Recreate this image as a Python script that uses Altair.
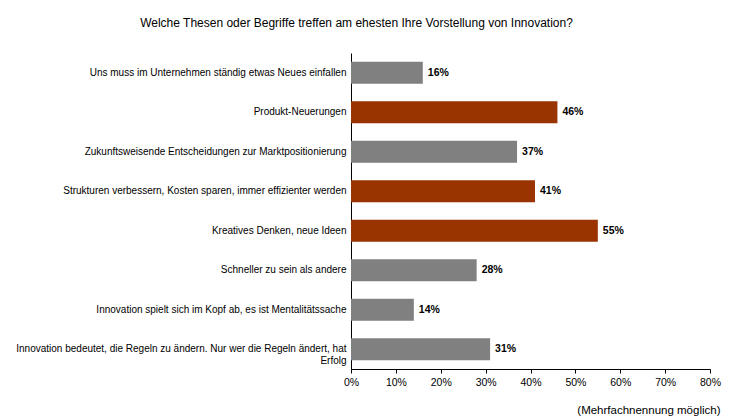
import altair as alt
import pandas as pd

# Survey answers (multiple answers allowed), share of respondents in percent
statements = [
    "Uns muss im Unternehmen ständig etwas Neues einfallen",
    "Produkt-Neuerungen",
    "Zukunftsweisende Entscheidungen zur Marktpositionierung",
    "Strukturen verbessern, Kosten sparen, immer effizienter werden",
    "Kreatives Denken, neue Ideen",
    "Schneller zu sein als andere",
    "Innovation spielt sich im Kopf ab, es ist Mentalitätssache",
    "Innovation bedeutet, die Regeln zu ändern. Nur wer die Regeln ändert, hat|Erfolg",
]
shares = [16, 46, 37, 41, 55, 28, 14, 31]
highlighted = [False, True, False, True, True, False, False, False]

SANS = "Liberation Sans, Arial, sans-serif"

df = pd.DataFrame({
    "statement": statements,
    "share": [s / 100 for s in shares],
    "group": ["hervorgehoben" if h else "standard" for h in highlighted],
    "label": [f"{s}%" for s in shares],
})

y_enc = alt.Y(
    "statement:N",
    sort=statements,
    title=None,
    scale=alt.Scale(paddingInner=0.44, paddingOuter=0.22),
    axis=alt.Axis(
        ticks=False,
        domainColor="#000000",
        domainWidth=1,
        labelFont=SANS,
        labelFontSize=10,
        labelColor="#000000",
        labelPadding=5,
        labelLimit=400,
        labelLineHeight=12,
        labelExpr="split(datum.label, '|')",
    ),
)

x_enc = alt.X(
    "share:Q",
    scale=alt.Scale(domain=[0, 0.8], nice=False),
    axis=alt.Axis(
        format=".0%",
        values=[0, 0.1, 0.2, 0.3, 0.4, 0.5, 0.6, 0.7, 0.8],
        grid=False,
        domainColor="#000000",
        tickColor="#000000",
        tickSize=4,
        labelFont=SANS,
        labelFontSize=10.5,
        labelColor="#000000",
        labelPadding=4,
        labelFlush=False,
        title="(Mehrfachnennung möglich)",
        titleFont=SANS,
        titleFontSize=11.5,
        titleFontWeight="normal",
        titleColor="#000000",
        titleAnchor="end",
        titleAlign="right",
        titleBaseline="alphabetic",
        titleX=369,
        titleY=44,
    ),
)

bars = alt.Chart(df).mark_bar().encode(
    y=y_enc,
    x=x_enc,
    color=alt.Color(
        "group:N",
        scale=alt.Scale(domain=["standard", "hervorgehoben"], range=["#808080", "#993300"]),
        legend=None,
    ),
)

values = alt.Chart(df).mark_text(
    align="left", baseline="middle", dx=5,
    font=SANS, fontSize=10.5, fontWeight="bold", color="#000000",
).encode(
    y=alt.Y("statement:N", sort=statements),
    x="share:Q",
    text="label:N",
)

chart = (
    alt.layer(bars, values)
    .properties(
        width=359,
        height=316,
        autosize=alt.AutoSizeParams(type="none"),
        padding={"left": 351, "top": 53, "right": 22, "bottom": 51},
        background="#ffffff",
        title=alt.TitleParams(
            "Welche Thesen oder Begriffe treffen am ehesten Ihre Vorstellung von Innovation?",
            font=SANS,
            fontSize=12,
            fontWeight="normal",
            color="#000000",
            anchor="middle",
            frame="group",
            dx=-174,
            offset=23,
        ),
    )
    .configure_view(stroke=None)
)

chart.save("out.html", embed_options={"renderer": "svg", "actions": False})
